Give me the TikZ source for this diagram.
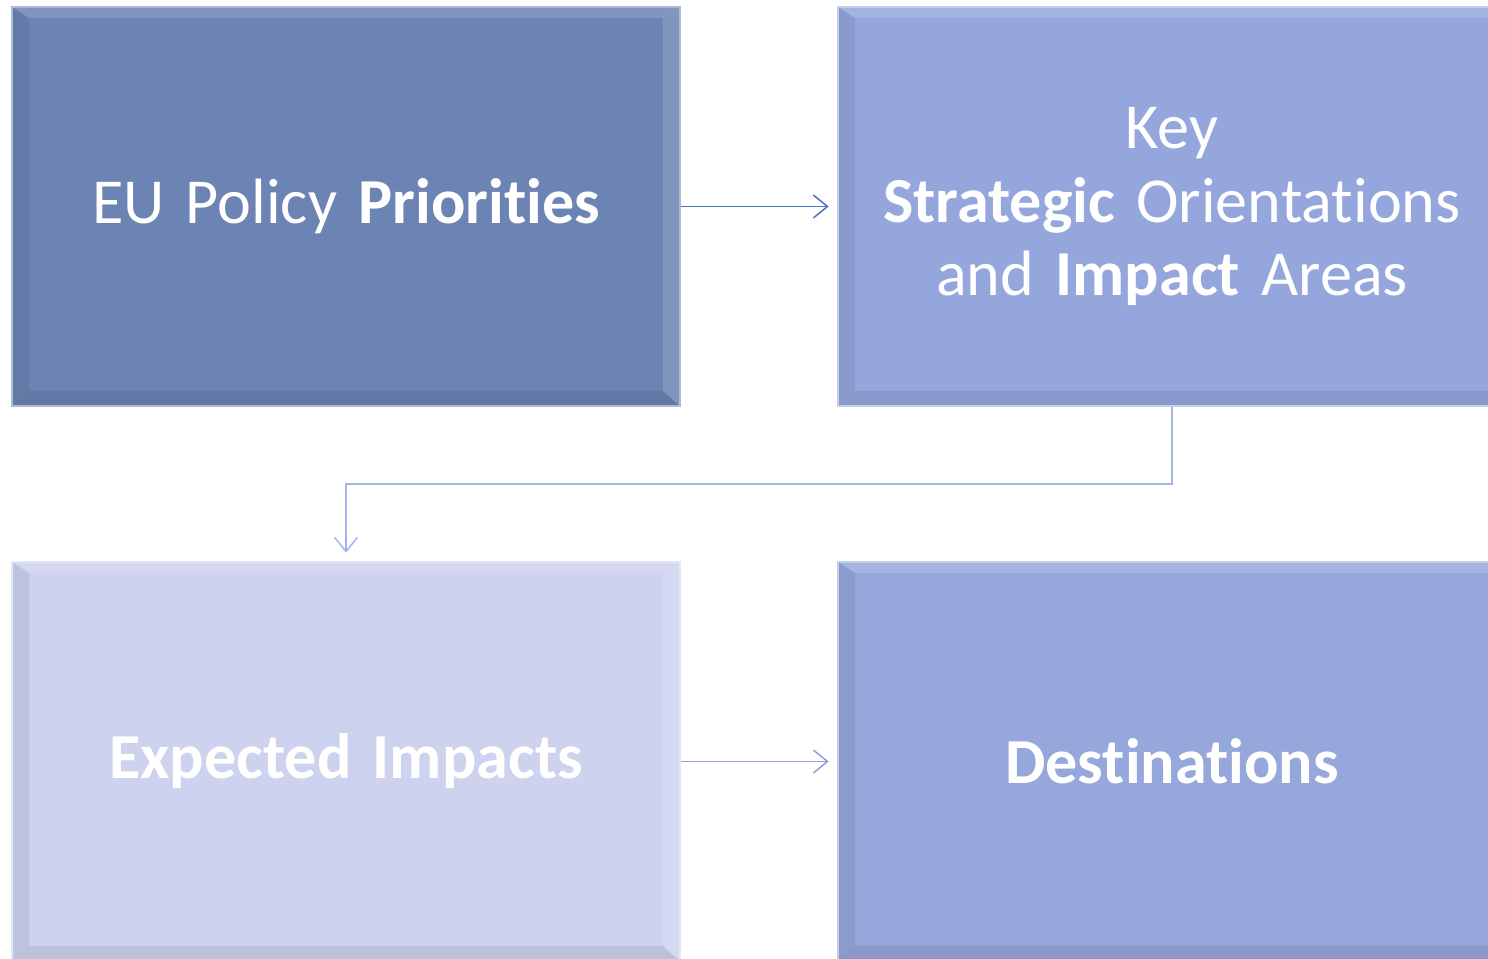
\documentclass[tikz,border=0pt]{standalone}
\usepackage{fontspec}
\setmainfont[Ligatures=NoCommon]{Carlito}
\usetikzlibrary{arrows.meta,positioning}
\definecolor{policy}{RGB}{108,132,180}
\definecolor{keyso}{RGB}{148,166,220}
\definecolor{impacts}{RGB}{205,210,239}
\definecolor{dest}{RGB}{150,167,220}
\definecolor{linkA}{RGB}{80,112,192}
\definecolor{linkB}{RGB}{165,180,230}
\definecolor{linkC}{RGB}{140,160,220}
\tikzset{>={Straight Barb[length=8pt,width=13pt]}}
\tikzset{
  bevel/.style={path picture={
    \fill[white,opacity=.15] (path picture bounding box.north west) -- (path picture bounding box.north east)
      -- ([shift={(-.34cm,-.22cm)}]path picture bounding box.north east) -- ([shift={(.34cm,-.22cm)}]path picture bounding box.north west) -- cycle;
    \fill[white,opacity=.15] (path picture bounding box.north east) -- (path picture bounding box.south east)
      -- ([shift={(-.34cm,.3cm)}]path picture bounding box.south east) -- ([shift={(-.34cm,-.22cm)}]path picture bounding box.north east) -- cycle;
    \fill[black,opacity=.07] (path picture bounding box.north west) -- (path picture bounding box.south west)
      -- ([shift={(.34cm,.3cm)}]path picture bounding box.south west) -- ([shift={(.34cm,-.22cm)}]path picture bounding box.north west) -- cycle;
    \fill[black,opacity=.08] (path picture bounding box.south west) -- (path picture bounding box.south east)
      -- ([shift={(-.34cm,.3cm)}]path picture bounding box.south east) -- ([shift={(.34cm,.3cm)}]path picture bounding box.south west) -- cycle;
  }},
  box/.style={bevel, fill=#1, draw=#1!55!white, line width=0.7pt, minimum width=13.36cm, minimum height=7.98cm,
    inner sep=0pt, text width=13cm, align=center, text=white, font=\fontsize{36.5}{41.7}\selectfont},
  link/.style={->, line width=0.85pt, shorten >=5pt}
}

\begin{document}
\begin{tikzpicture}[x=0.02cm, y=-0.02cm]
    \useasboundingbox (0,0) rectangle (1488,958);
    \clip (0,0) rectangle (1488,958);
    \node[box=policy] (P) at (346,206.5) {EU Policy \textbf{Priorities}};
    \node[box=keyso] (K) at (1172,206.5) {Key\\\textbf{Strategic} Orientations\\and \textbf{Impact} Areas};
    \node[box=impacts] (E) at (346,761.5) {\textbf{Expected Impacts}};
    \node[box=dest] (D) at (1172,761.5) {\textbf{Destinations}};
    \coordinate (turn) at (0,484);
    \draw[link, draw=linkA] (P) -- (K);
    \draw[link, draw=linkB] (K.south) |- (turn -| E.north) -- (E.north);
    \draw[link, draw=linkC] (E) -- (D);
\end{tikzpicture}
\end{document}
